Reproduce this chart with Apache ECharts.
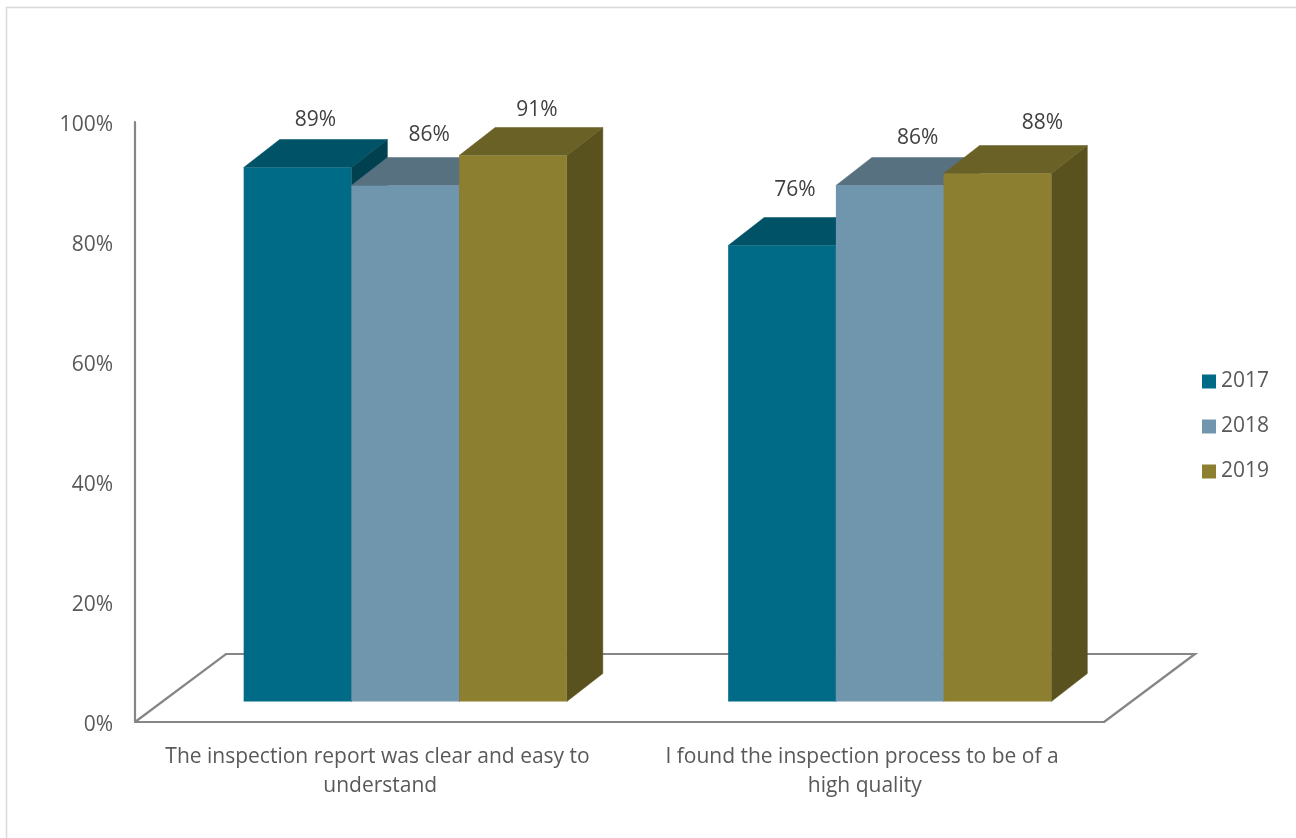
<!DOCTYPE html>
<html>
<head>
<meta charset="utf-8">
<style>html,body{margin:0;padding:0;background:#fff}#chart{width:1296px;height:838px}</style>
<script src="https://cdn.jsdelivr.net/npm/echarts@6/dist/echarts.min.js"></script>
</head>
<body>
<div id="chart"></div>
<script>
const categories = ['The inspection report was clear and easy to understand', 'I found the inspection process to be of a high quality'];
const seriesNames = ['2017', '2018', '2019'];
const values2017 = [89, 76];
const values2018 = [86, 86];
const values2019 = [91, 88];
const yTicks = [0, 20, 40, 60, 80, 100];

const frontColors = ['#006B87', '#7096AD', '#8C8030'];
const topColors = ['#005267', '#577180', '#6A6126'];
const sideColors = ['#00404F', '#4A6070', '#5A521E'];
const labelShiftX = [[0, 6, 6], [-5, 10, 27]];
const labelGapY = [[19, 22, 17], [27, 19, 22]];

const FONT = '"Open Sans"';
const FONT_SIZE = 21;
const FLOOR_DX = 91, FLOOR_DY = 68;
const FRONT_DX = 28, FRONT_DY = 20.5;
const DEPTH_DX = 36, DEPTH_DY = 28;
const CLUSTER_RATIO = 0.667;

function barRenderer(si) {
  return function (params, api) {
    const cat = api.value(0), v = api.value(1);
    const band = api.size([1, 0])[0];
    const w = band * CLUSTER_RATIO / 3;
    const c = api.coord([cat, 0]);
    const x0 = c[0] + FRONT_DX - 1.5 * w + si * w;
    const x1 = x0 + w;
    const yb = c[1] - FRONT_DY;
    const yt = api.coord([cat, v])[1] - FRONT_DY;
    const poly = (pts, fill) => ({ type: 'polygon', shape: { points: pts }, style: { fill: fill, stroke: fill, lineWidth: 0.5 } });
    return {
      type: 'group',
      children: [
        poly([[x1, yt], [x1 + DEPTH_DX, yt - DEPTH_DY], [x1 + DEPTH_DX, yb - DEPTH_DY], [x1, yb]], sideColors[si]),
        poly([[x0, yt], [x0 + DEPTH_DX, yt - DEPTH_DY], [x1 + DEPTH_DX, yt - DEPTH_DY], [x1, yt]], topColors[si]),
        { type: 'rect', shape: { x: x0, y: yt, width: w, height: yb - yt }, style: { fill: frontColors[si] } },
        { type: 'text', z2: 10, style: {
            text: v + '%', x: x0 + w / 2 + DEPTH_DX / 2 + labelShiftX[cat][si], y: yt - DEPTH_DY - labelGapY[cat][si],
            align: 'center', verticalAlign: 'middle', fill: '#404040', font: FONT_SIZE + 'px ' + FONT } }
      ]
    };
  };
}

function floorRenderer(params) {
  const g = params.coordSys;
  const yb = g.y + g.height, xl = g.x, xr = g.x + g.width;
  return {
    type: 'polyline',
    shape: { points: [[xl, yb], [xl + FLOOR_DX, yb - FLOOR_DY], [xr + FLOOR_DX, yb - FLOOR_DY], [xr, yb]] },
    style: { fill: null, stroke: '#868686', lineWidth: 2.2 }
  };
}

const valueSets = [values2017, values2018, values2019];
const chart = echarts.init(document.getElementById('chart'), null, { renderer: 'canvas' });
chart.setOption({
  animation: false,
  backgroundColor: '#fff',
  textStyle: { fontFamily: 'Open Sans' },
  graphic: [{ type: 'polyline', silent: true, shape: { points: [[6.5, 860], [6.5, 7.5], [1320, 7.5]] }, style: { fill: null, stroke: '#D9D9D9', lineWidth: 1.5 } }],
  grid: { left: 135, right: 192, top: 122, bottom: 116, containLabel: false },
  legend: {
    orient: 'vertical', left: 1197, top: 366, itemWidth: 14, itemHeight: 14, itemGap: 24,
    data: seriesNames.map((n, i) => ({ name: n, icon: 'rect', itemStyle: { color: frontColors[i] } })),
    textStyle: { color: '#595959', fontSize: FONT_SIZE, fontFamily: 'Open Sans' }, selectedMode: false
  },
  xAxis: {
    type: 'category', data: categories,
    axisLine: { lineStyle: { color: '#868686', width: 2.2 } }, axisTick: { show: false },
    axisLabel: { interval: 0, color: '#595959', fontSize: FONT_SIZE, fontFamily: 'Open Sans', lineHeight: 29, margin: 21, width: 432, overflow: 'break', align: 'center', padding: [0, 0, 0, 6] }
  },
  yAxis: {
    type: 'value', min: yTicks[0], max: yTicks[yTicks.length - 1], interval: yTicks[1] - yTicks[0],
    splitLine: { show: false }, axisTick: { show: false },
    axisLine: { show: true, lineStyle: { color: '#868686', width: 2.2 } },
    axisLabel: { color: '#595959', fontSize: FONT_SIZE, fontFamily: 'Open Sans', margin: 22, verticalAlign: 'top', lineHeight: 21, padding: [-7, 0, 0, 0], formatter: '{value}%' }
  },
  series: [
    { type: 'custom', name: 'floor', silent: true, z: 1, renderItem: floorRenderer, data: [[0, 0]] }
  ].concat(seriesNames.map((n, si) => ({
    type: 'custom', name: n, z: 2 + si, silent: true, clip: false,
    itemStyle: { color: frontColors[si] },
    encode: { x: 0, y: 1 },
    renderItem: barRenderer(si),
    data: categories.map((c, i) => [i, valueSets[si][i]])
  })))
});
</script>
</body>
</html>
